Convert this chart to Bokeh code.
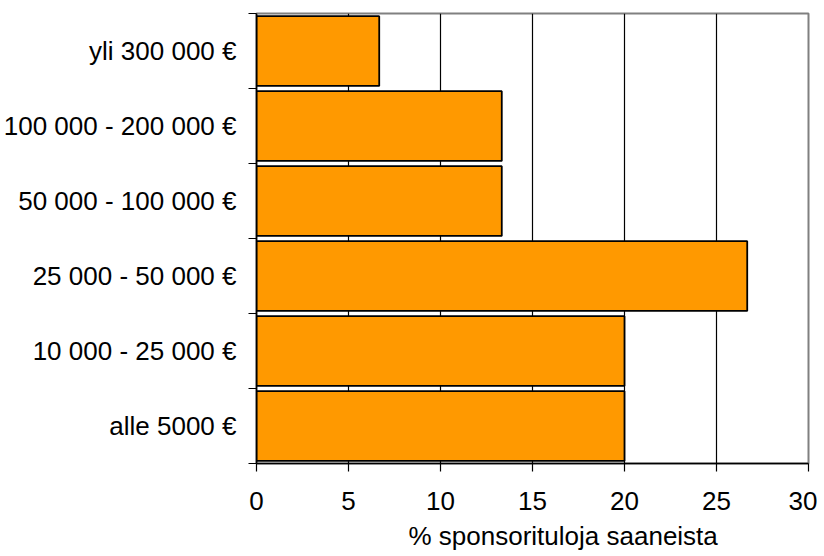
from bokeh.plotting import figure
from bokeh.models import Range1d, FixedTicker, Title
from bokeh.embed import file_html
from bokeh.resources import INLINE

categories = ["alle 5000 €", "10 000 - 25 000 €", "25 000 - 50 000 €",
              "50 000 - 100 000 €", "100 000 - 200 000 €", "yli 300 000 €"]
values = [20, 20, 26.67, 13.33, 13.33, 6.67]
x_ticks = [0, 5, 10, 15, 20, 25, 30]
x_label = "% sponsorituloja saaneista"

centers = [i + 0.5 for i in range(len(categories))]
bounds = list(range(len(categories) + 1))

p = figure(frame_width=552, frame_height=450, output_backend="svg", toolbar_location=None,
           x_range=Range1d(0, 30), y_range=Range1d(0, len(categories)),
           min_border_left=255, min_border_right=9, min_border_top=13,
           min_border_bottom=0)

p.hbar(y=centers, right=values, left=0, height=0.93, fill_color="#FF9900",
       line_color="black", line_width=1.8)

FONT = "Liberation Sans"
# x axis
p.xaxis.ticker = FixedTicker(ticks=x_ticks)
p.xaxis.major_tick_out = 8
p.xaxis.major_tick_in = 0
p.xaxis.minor_tick_line_color = None
p.xaxis.axis_line_color = "black"
p.xaxis.axis_line_width = 1.5
p.xaxis.major_tick_line_width = 1.2
p.xaxis.major_label_text_font = FONT
p.xaxis.major_label_text_font_size = "26px"
p.xaxis.major_label_text_line_height = 1.0
p.xaxis.major_label_text_color = "black"
p.xaxis.major_label_standoff = 20

# y axis
p.yaxis.ticker = FixedTicker(ticks=centers, minor_ticks=bounds)
p.yaxis.major_label_overrides = {c: lab for c, lab in zip(centers, categories)}
p.yaxis.major_tick_line_color = None
p.yaxis.minor_tick_out = 8
p.yaxis.minor_tick_in = 0
p.yaxis.minor_tick_line_color = "black"
p.yaxis.minor_tick_line_width = 1.2
p.yaxis.axis_line_color = "black"
p.yaxis.axis_line_width = 1.5
p.yaxis.major_label_text_font = FONT
p.yaxis.major_label_text_font_size = "26px"
p.yaxis.major_label_text_color = "black"
p.yaxis.major_label_standoff = 12

# grid
p.ygrid.grid_line_color = None
p.xgrid.ticker = FixedTicker(ticks=x_ticks[1:-1])
p.xgrid.grid_line_color = "black"
p.xgrid.grid_line_width = 1.2

p.outline_line_color = "#808080"
p.outline_line_width = 2

p.add_layout(Title(text=x_label, align="left", offset=152, standoff=12,
                   text_font=FONT, text_font_size="26px", text_font_style="normal",
                   text_line_height=1.0, text_color="black"), "below")

open("out.html", "w").write(file_html(p, INLINE))
